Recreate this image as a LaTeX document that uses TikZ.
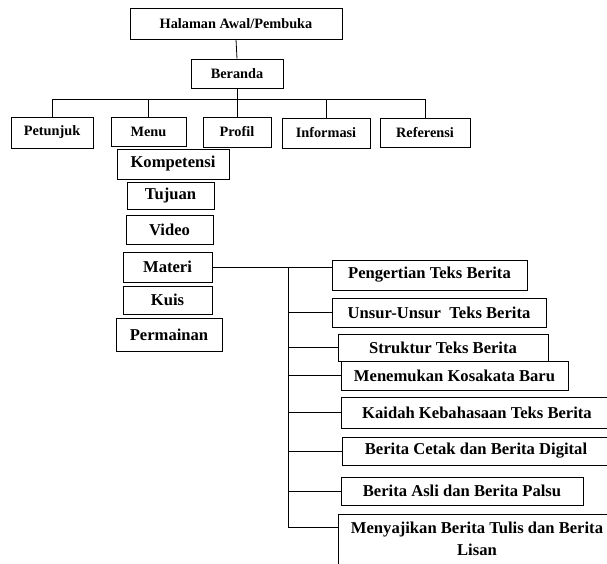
\documentclass[tikz,border=0pt]{standalone}
\usepackage{fontspec}
\setmainfont{Liberation Serif}
\begin{document}
\begin{tikzpicture}[x=1pt,y=-1pt,
  box/.style={draw, line width=0.9pt, rectangle, inner sep=0pt, align=center,
    font=\fontsize{14.3}{22}\selectfont\bfseries},
  subbox/.style={box, font=\fontsize{16.6}{22.5}\selectfont\bfseries},
  conn/.style={line width=0.8pt}]
\useasboundingbox (0,0) rectangle (607,563);
\clip (0,0) rectangle (607,563);
\newcommand{\bx}[7]{\node[#7, minimum width=#4pt, minimum height=#5pt] (#1) at (#2,#3) {#6};}
\bx{hal}{236}{23.5}{212}{31}{Halaman Awal/Pembuka}{box}
\bx{ber}{237}{73.5}{92}{29}{Beranda}{box}
\bx{pet}{52}{132.5}{82}{31}{Petunjuk}{box}
\bx{menu}{148.5}{131.5}{75}{29}{Menu}{box}
\bx{prof}{237}{132}{68}{30}{Profil}{box}
\bx{info}{326}{133}{88}{30}{Informasi}{box}
\bx{ref}{425}{132.5}{90}{29}{Referensi}{box}
\bx{komp}{173}{164}{112}{30}{Kompetensi}{subbox}
\bx{tuj}{170.5}{195.5}{87}{27}{Tujuan}{subbox}
\bx{vid}{169.5}{229.5}{87}{29}{Video}{subbox}
\bx{mat}{167.5}{267}{89}{30}{Materi}{subbox}
\bx{kuis}{167.5}{300}{89}{28}{Kuis}{subbox}
\bx{perm}{169}{334.5}{106}{33}{Permainan}{subbox}
\bx{peng}{429.5}{275}{195}{30}{Pengertian Teks Berita}{subbox}
\bx{uns}{439}{312.5}{214}{29}{Unsur-Unsur~ Teks Berita}{subbox}
\bx{str}{443}{347.5}{210}{27}{Struktur Teks Berita}{subbox}
\bx{men}{454.5}{375.5}{227}{29}{Menemukan Kosakata Baru}{subbox}
\bx{kai}{477}{412.5}{272}{31}{Kaidah Kebahasaan Teks Berita}{subbox}
\bx{cet}{476}{451}{268}{28}{Berita Cetak dan Berita Digital}{subbox}
\bx{asli}{462}{491}{242}{28}{Berita Asli dan Berita Palsu}{subbox}
\bx{menya}{477}{539}{278}{50}{Menyajikan Berita Tulis dan Berita\\Lisan}{subbox}
% top tree
\coordinate (bus) at (0,99);
\draw[conn] (hal.south) -- (ber.north);
\draw[conn] (ber.south) -- (ber.south |- bus);
\draw[conn] (pet.north) -- (pet.north |- bus) -| (ref.north);
\draw[conn] (menu.north) -- (menu.north |- bus);
\draw[conn] (prof.north) -- (prof.north |- bus);
\draw[conn] (info.north) -- (info.north |- bus);
% materi tree
\coordinate (trunk) at (288,268);
\draw[conn] (mat.east) -- (mat.east -| peng.west);
\draw[conn] (trunk) |- ([yshift=-14pt]menya.north west);
\foreach \n in {uns,str,men,kai,cet,asli}
  \draw[conn] (trunk |- \n.west) -- (\n.west);
\end{tikzpicture}
\end{document}
